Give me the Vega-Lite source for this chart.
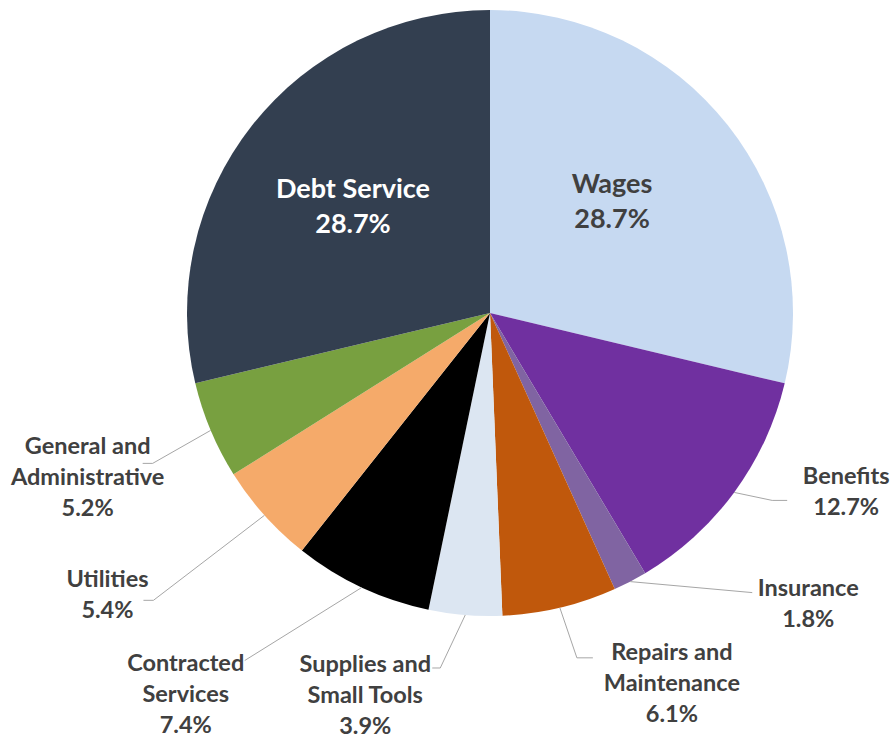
{
  "$schema": "https://vega.github.io/schema/vega-lite/v6.json",
  "width": 786,
  "height": 626,
  "padding": {"left": 97, "top": 0, "right": 10, "bottom": 112},
  "autosize": {"type": "none"},
  "background": "white",
  "config": {"view": {"stroke": null}, "text": {"font": "Lato", "fontWeight": "bold"}},
  "data": {
    "values": [
      {"k": 1, "item": "Wages", "pct": 28.7},
      {"k": 2, "item": "Benefits", "pct": 12.7},
      {"k": 3, "item": "Insurance", "pct": 1.8},
      {"k": 4, "item": "Repairs and Maintenance", "pct": 6.1},
      {"k": 5, "item": "Supplies and Small Tools", "pct": 3.9},
      {"k": 6, "item": "Contracted Services", "pct": 7.4},
      {"k": 7, "item": "Utilities", "pct": 5.4},
      {"k": 8, "item": "General and Administrative", "pct": 5.2},
      {"k": 9, "item": "Debt Service", "pct": 28.7}
    ]
  },
  "transform": [
    {"window": [{"op": "sum", "field": "pct", "as": "cum"}], "sort": [{"field": "k", "order": "ascending"}], "frame": [null, 0]},
    {"joinaggregate": [{"op": "sum", "field": "pct", "as": "total"}]},
    {"calculate": "2 * PI * (datum.cum - datum.pct / 2) / datum.total", "as": "mid"},
    {"calculate": "303 * sin(datum.mid)", "as": "ex"},
    {"calculate": "303 * cos(datum.mid)", "as": "ey"},
    {"calculate": "172 * sin(datum.mid)", "as": "ix"},
    {"calculate": "172 * cos(datum.mid)", "as": "iy"},
    {"calculate": "replace(replace(datum.item, ' and ', ' and\\n'), 'Contracted ', 'Contracted\\n') + '\\n' + format(datum.pct, '.1f') + '%'", "as": "label"}
  ],
  "layer": [
    {
      "mark": {"type": "arc", "radius": 303},
      "encoding": {
        "theta": {"field": "pct", "type": "quantitative", "stack": true},
        "order": {"field": "k", "type": "quantitative"},
        "color": {
          "field": "item",
          "type": "nominal",
          "legend": null,
          "scale": {
            "domain": ["Wages", "Benefits", "Insurance", "Repairs and Maintenance", "Supplies and Small Tools", "Contracted Services", "Utilities", "General and Administrative", "Debt Service"],
            "range": ["#c6d9f1", "#7030a0", "#8064a2", "#c0580c", "#dce6f2", "#000000", "#f5aa6a", "#78a040", "#333f50"]
          }
        }
      }
    },
    {
      "transform": [{"filter": "datum.item === 'Debt Service'"}],
      "mark": {"type": "text", "fontSize": 27, "lineHeight": 35, "lineBreak": "\n", "color": "#ffffff", "align": "center", "baseline": "middle", "dx": -2, "dy": -16},
      "encoding": {
        "x": {"field": "ix", "type": "quantitative", "scale": {"domain": [-393, 393], "nice": false, "zero": false}, "axis": null},
        "y": {"field": "iy", "type": "quantitative", "scale": {"domain": [-313, 313], "nice": false, "zero": false}, "axis": null},
        "text": {"field": "label", "type": "nominal"}
      }
    },
    {
      "transform": [{"filter": "datum.item === 'Wages'"}],
      "mark": {"type": "text", "fontSize": 27, "lineHeight": 35, "lineBreak": "\n", "color": "#404040", "align": "center", "baseline": "middle", "dx": -13, "dy": -21},
      "encoding": {
        "x": {"field": "ix", "type": "quantitative"},
        "y": {"field": "iy", "type": "quantitative"},
        "text": {"field": "label", "type": "nominal"}
      }
    },
    {
      "transform": [{"filter": "datum.item === 'Benefits'"}],
      "encoding": {"x": {"field": "ex", "type": "quantitative"}, "y": {"field": "ey", "type": "quantitative"}},
      "layer": [
        {"mark": {"type": "rule", "color": "#a6a6a6", "strokeWidth": 1, "x2Offset": 38, "y2Offset": 8}, "encoding": {"x2": {"field": "ex"}, "y2": {"field": "ey"}}},
        {"mark": {"type": "rule", "color": "#a6a6a6", "strokeWidth": 1, "xOffset": 38, "yOffset": 8, "x2Offset": 53, "y2Offset": 8}, "encoding": {"x2": {"field": "ex"}, "y2": {"field": "ey"}}},
        {"mark": {"type": "text", "fontSize": 23.5, "lineHeight": 31, "lineBreak": "\n", "color": "#404040", "align": "center", "baseline": "middle", "dx": 112, "dy": -15}, "encoding": {"text": {"field": "label", "type": "nominal"}}}
      ]
    },
    {
      "transform": [{"filter": "datum.item === 'Insurance'"}],
      "encoding": {"x": {"field": "ex", "type": "quantitative"}, "y": {"field": "ey", "type": "quantitative"}},
      "layer": [
        {"mark": {"type": "rule", "color": "#a6a6a6", "strokeWidth": 1, "x2Offset": 122, "y2Offset": 11}, "encoding": {"x2": {"field": "ex"}, "y2": {"field": "ey"}}},
        {"mark": {"type": "text", "fontSize": 23.5, "lineHeight": 31, "lineBreak": "\n", "color": "#404040", "align": "center", "baseline": "middle", "dx": 178, "dy": 7.5}, "encoding": {"text": {"field": "label", "type": "nominal"}}}
      ]
    },
    {
      "transform": [{"filter": "datum.item === 'Repairs and Maintenance'"}],
      "encoding": {"x": {"field": "ex", "type": "quantitative"}, "y": {"field": "ey", "type": "quantitative"}},
      "layer": [
        {"mark": {"type": "rule", "color": "#a6a6a6", "strokeWidth": 1, "x2Offset": 17, "y2Offset": 50}, "encoding": {"x2": {"field": "ex"}, "y2": {"field": "ey"}}},
        {"mark": {"type": "rule", "color": "#a6a6a6", "strokeWidth": 1, "xOffset": 17, "yOffset": 50, "x2Offset": 33, "y2Offset": 50}, "encoding": {"x2": {"field": "ex"}, "y2": {"field": "ey"}}},
        {"mark": {"type": "text", "fontSize": 23.5, "lineHeight": 31, "lineBreak": "\n", "color": "#404040", "align": "center", "baseline": "middle", "dx": 112, "dy": 45.5}, "encoding": {"text": {"field": "label", "type": "nominal"}}}
      ]
    },
    {
      "transform": [{"filter": "datum.item === 'Supplies and Small Tools'"}],
      "encoding": {"x": {"field": "ex", "type": "quantitative"}, "y": {"field": "ey", "type": "quantitative"}},
      "layer": [
        {"mark": {"type": "rule", "color": "#a6a6a6", "strokeWidth": 1, "x2Offset": -25, "y2Offset": 53}, "encoding": {"x2": {"field": "ex"}, "y2": {"field": "ey"}}},
        {"mark": {"type": "rule", "color": "#a6a6a6", "strokeWidth": 1, "xOffset": -25, "yOffset": 53, "x2Offset": -33, "y2Offset": 53}, "encoding": {"x2": {"field": "ex"}, "y2": {"field": "ey"}}},
        {"mark": {"type": "text", "fontSize": 23.5, "lineHeight": 31, "lineBreak": "\n", "color": "#404040", "align": "center", "baseline": "middle", "dx": -100, "dy": 50}, "encoding": {"text": {"field": "label", "type": "nominal"}}}
      ]
    },
    {
      "transform": [{"filter": "datum.item === 'Contracted Services'"}],
      "encoding": {"x": {"field": "ex", "type": "quantitative"}, "y": {"field": "ey", "type": "quantitative"}},
      "layer": [
        {"mark": {"type": "rule", "color": "#a6a6a6", "strokeWidth": 1, "x2Offset": -117, "y2Offset": 73}, "encoding": {"x2": {"field": "ex"}, "y2": {"field": "ey"}}},
        {"mark": {"type": "text", "fontSize": 23.5, "lineHeight": 31, "lineBreak": "\n", "color": "#404040", "align": "center", "baseline": "middle", "dx": -176, "dy": 76.5}, "encoding": {"text": {"field": "label", "type": "nominal"}}}
      ]
    },
    {
      "transform": [{"filter": "datum.item === 'Utilities'"}],
      "encoding": {"x": {"field": "ex", "type": "quantitative"}, "y": {"field": "ey", "type": "quantitative"}},
      "layer": [
        {"mark": {"type": "rule", "color": "#a6a6a6", "strokeWidth": 1, "x2Offset": -111, "y2Offset": 85}, "encoding": {"x2": {"field": "ex"}, "y2": {"field": "ey"}}},
        {"mark": {"type": "rule", "color": "#a6a6a6", "strokeWidth": 1, "xOffset": -111, "yOffset": 85, "x2Offset": -121, "y2Offset": 85}, "encoding": {"x2": {"field": "ex"}, "y2": {"field": "ey"}}},
        {"mark": {"type": "text", "fontSize": 23.5, "lineHeight": 31, "lineBreak": "\n", "color": "#404040", "align": "center", "baseline": "middle", "dx": -157, "dy": 64.5}, "encoding": {"text": {"field": "label", "type": "nominal"}}}
      ]
    },
    {
      "transform": [{"filter": "datum.item === 'General and Administrative'"}],
      "encoding": {"x": {"field": "ex", "type": "quantitative"}, "y": {"field": "ey", "type": "quantitative"}},
      "layer": [
        {"mark": {"type": "rule", "color": "#a6a6a6", "strokeWidth": 1, "x2Offset": -58, "y2Offset": 33}, "encoding": {"x2": {"field": "ex"}, "y2": {"field": "ey"}}},
        {"mark": {"type": "rule", "color": "#a6a6a6", "strokeWidth": 1, "xOffset": -58, "yOffset": 33, "x2Offset": -68, "y2Offset": 33}, "encoding": {"x2": {"field": "ex"}, "y2": {"field": "ey"}}},
        {"mark": {"type": "text", "fontSize": 23.5, "lineHeight": 31, "lineBreak": "\n", "color": "#404040", "align": "center", "baseline": "middle", "dx": -123, "dy": 16.5}, "encoding": {"text": {"field": "label", "type": "nominal"}}}
      ]
    }
  ]
}
